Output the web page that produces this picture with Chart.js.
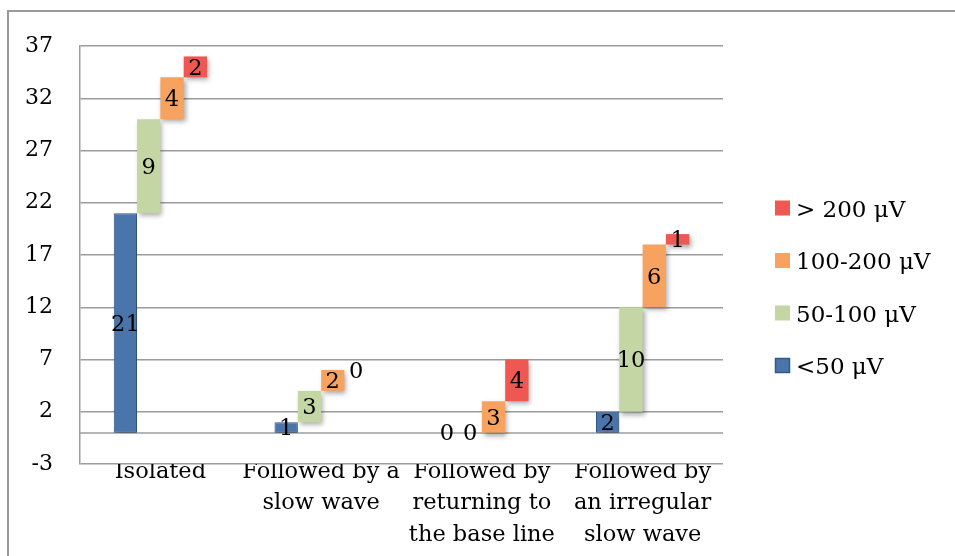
<!DOCTYPE html>
<html>
<head>
<meta charset="utf-8">
<script src="https://cdn.jsdelivr.net/npm/chart.js@4.4.1/dist/chart.umd.min.js"></script>
<style>
  html, body { margin: 0; padding: 0; background: #ffffff; overflow: hidden; }
  #wrap { width: 955px; height: 556px; position: relative; }
  canvas { display: block; }
</style>
</head>
<body>
<div id="wrap"><canvas id="c" width="955" height="556"></canvas></div>
<script>
// Categories (multi-line labels) and counts per amplitude class
const categories = [
  "Isolated",
  ["Followed by a", "slow wave"],
  ["Followed by", "returning to", "the base line"],
  ["Followed by", "an irregular", "slow wave"]
];
const seriesNames = ["<50 μV", "50-100 μV", "100-200 μV", "> 200 μV"];
const below50      = [21, 1, 0, 2];
const from50to100  = [9, 3, 0, 10];
const from100to200 = [4, 2, 3, 6];
const above200     = [2, 0, 4, 1];
const yTickValues  = [-3, 2, 7, 12, 17, 22, 27, 32, 37];

const FONT = '"DejaVu Serif", "Liberation Serif", serif';
const GRID = '#9c9c9c';
const fills   = ['#4a75aa', '#c3d6a4', '#f7a25e', '#ef5753'];
const strokes = ['#34598a', '#c3d6a4', '#f7a25e', '#ef5753'];

// Each class floats on top of the previous ones (cumulative ranges)
const counts = [below50, from50to100, from100to200, above200];
const running = categories.map(() => 0);
const datasets = counts.map((vals, k) => {
  const data = vals.map((v, i) => {
    const start = running[i];
    running[i] += v;
    return [start, start + v];
  });
  return {
    label: seriesNames[k],
    data: data,
    counts: vals,
    backgroundColor: fills[k],
    borderColor: strokes[k],
    borderWidth: k === 0 ? 1 : 0,
    borderSkipped: false,
    categoryPercentage: 0.58,
    barPercentage: 1.0
  };
});

const decorations = {
  id: 'decorations',
  beforeDatasetsDraw(chart) {
    const ctx = chart.ctx;
    const a = chart.chartArea;
    const y0 = Math.round(chart.scales.y.getPixelForValue(0));
    ctx.save();
    ctx.strokeStyle = GRID;
    ctx.lineWidth = 1.5;
    ctx.beginPath();
    ctx.moveTo(a.left, y0);
    ctx.lineTo(a.right, y0);
    ctx.stroke();
    ctx.restore();
    // soft drop shadow under the bars
    ctx.save();
    ctx.shadowColor = 'rgba(0,0,0,0.35)';
    ctx.shadowBlur = 5;
    ctx.shadowOffsetX = 2;
    ctx.shadowOffsetY = 3;
  },
  afterDatasetsDraw(chart) {
    const ctx = chart.ctx;
    ctx.restore();
    ctx.save();
    ctx.font = '22.5px ' + FONT;
    ctx.fillStyle = '#000';
    ctx.textAlign = 'center';
    ctx.textBaseline = 'middle';
    chart.data.datasets.forEach((ds, k) => {
      const meta = chart.getDatasetMeta(k);
      meta.data.forEach((el, i) => {
        const y = (el.y + el.base) / 2;
        ctx.fillText(String(ds.counts[i]), el.x, y + 2);
      });
    });
    ctx.restore();
  },
  afterDraw(chart) {
    const ctx = chart.ctx;
    ctx.save();
    // legend, top item is the highest class
    const items = chart.data.datasets.map((ds, k) => ({ ds, k })).reverse();
    ctx.font = '23px ' + FONT;
    ctx.textAlign = 'left';
    ctx.textBaseline = 'middle';
    items.forEach((it, n) => {
      const cy = 208 + n * 52.5;
      ctx.fillStyle = it.ds.backgroundColor;
      ctx.fillRect(775, cy - 7.5, 15, 15);
      if (it.ds.borderWidth) {
        ctx.strokeStyle = it.ds.borderColor;
        ctx.lineWidth = 1.5;
        ctx.strokeRect(775.5, cy - 7, 14, 14);
      }
      ctx.fillStyle = '#000';
      ctx.fillText(it.ds.label, 796, cy + 3);
    });
    // outer frame, running past the right and bottom edges
    ctx.strokeStyle = '#9a9a9a';
    ctx.lineWidth = 2;
    ctx.beginPath();
    ctx.moveTo(8, 600);
    ctx.lineTo(8, 11);
    ctx.lineTo(1000, 11);
    ctx.stroke();
    ctx.restore();
  }
};

new Chart(document.getElementById('c'), {
  type: 'bar',
  data: { labels: categories, datasets: datasets },
  options: {
    responsive: false,
    animation: false,
    layout: { padding: { top: 46, left: 0, right: 955 - 723, bottom: 0 } },
    plugins: { legend: { display: false }, tooltip: { enabled: false } },
    scales: {
      x: {
        grid: { display: false, drawTicks: false },
        border: { display: false },
        ticks: {
          font: { family: FONT, size: 22.5, lineHeight: 1.4 },
          color: '#000',
          padding: -8,
          maxRotation: 0,
          autoSkip: false
        },
        afterFit(s) { s.height = 92; }
      },
      y: {
        min: -3,
        max: 37,
        afterBuildTicks(s) { s.ticks = yTickValues.map(v => ({ value: v })); },
        grid: { color: GRID, lineWidth: 1.5, drawTicks: false },
        border: { display: true, color: GRID, width: 1.5 },
        ticks: { font: { family: FONT, size: 22 }, color: '#000', padding: 27 },
        afterFit(s) { s.width = 80; }
      }
    }
  },
  plugins: [decorations]
});
</script>
</body>
</html>
